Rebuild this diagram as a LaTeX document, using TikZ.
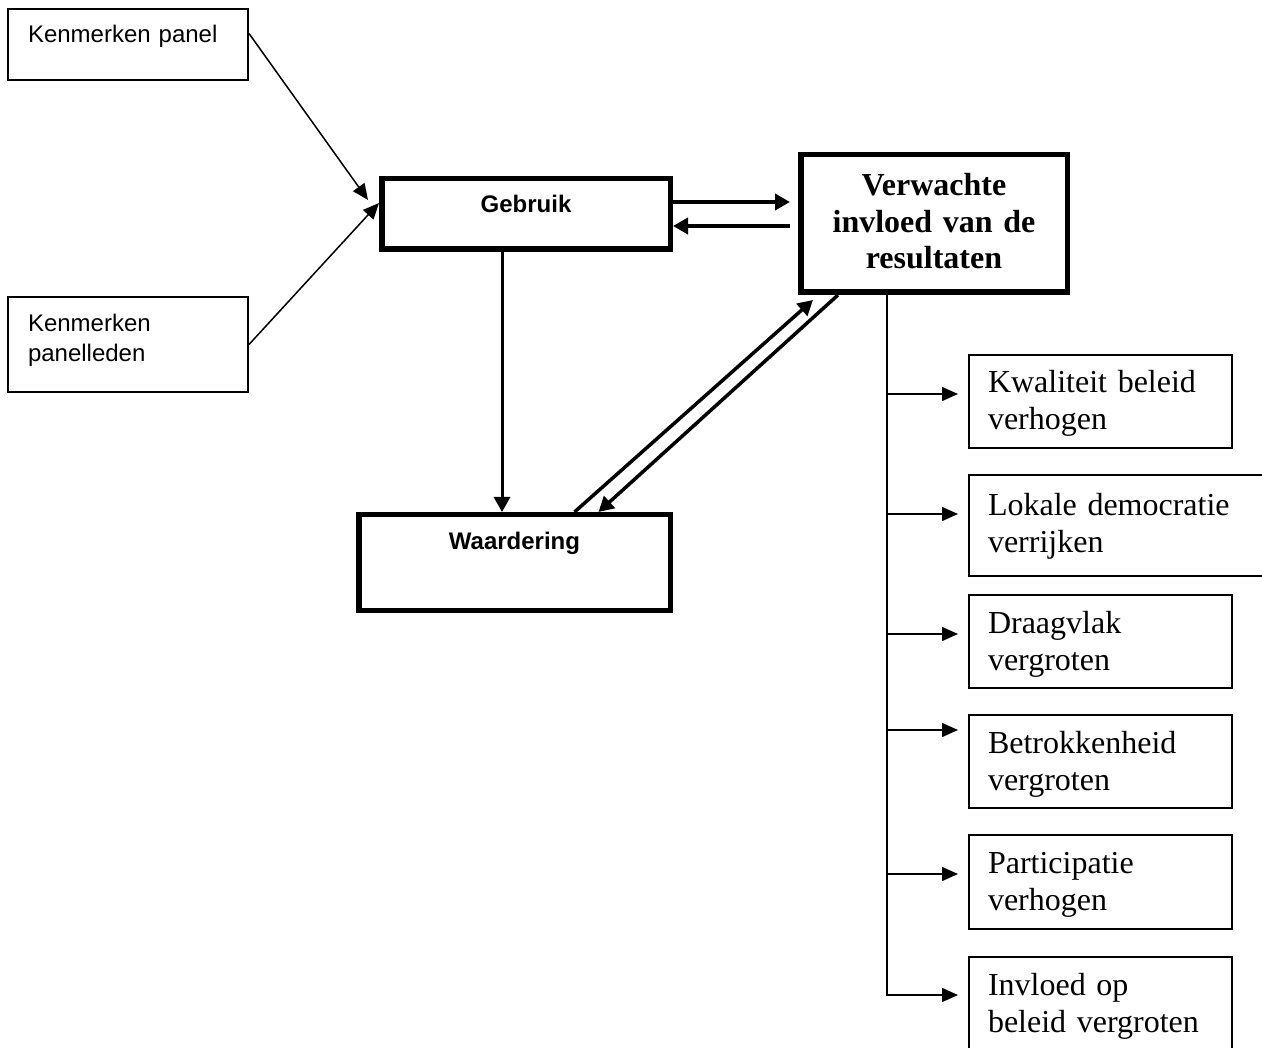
\documentclass[tikz,border=0pt]{standalone}
\usepackage{fontspec}
\setmainfont{Liberation Serif}
\newfontfamily\arialfont{Liberation Sans}
\usetikzlibrary{arrows.meta}

\tikzset{
  cause/.style={draw, line width=2pt, anchor=north west, align=left,
    inner xsep=20pt, inner ysep=0pt, text width=200pt,
    font=\arialfont\fontsize{24}{30}\selectfont},
  hub/.style={draw, line width=5.5pt, anchor=north west, align=center,
    inner sep=0pt, font=\arialfont\bfseries\fontsize{24}{30}\selectfont},
  effect/.style={draw, line width=2pt, anchor=north west, align=left,
    inner xsep=19pt, inner ysep=0pt, text width=225pt, text height=38pt,
    font=\fontsize{32}{37}\selectfont},
  thinarr/.style={line width=1.5pt, -{Triangle[length=16pt,width=14pt]}},
  thickarr/.style={-{Triangle[length=15pt,width=16pt]}}
}

\begin{document}
\begin{tikzpicture}[x=1pt,y=-1pt]
\useasboundingbox (0,0) rectangle (1262,1048);

\node[cause, text height=34pt, text depth=37pt] (kpanel) at (7,8)
{Kenmerken panel};

\node[cause, text height=35pt, text depth=60pt] (kleden) at (7,296)
{Kenmerken\\panelleden};

\node[hub, text width=288.5pt, text height=34.25pt, text depth=36.25pt] (gebruik) at (379,176)
{Gebruik};

\node[hub, text width=311.5pt, text height=35.25pt, text depth=60.25pt] (waard) at (356,512)
{Waardering};

\node[hub, text width=266.5pt, text height=41.25pt, text depth=96.25pt,
  font=\bfseries\fontsize{32}{36.5}\selectfont] (verw) at (798,152)
{Verwachte\\invloed van de\\resultaten};

% effecten
\node[effect, text depth=55pt] (kwal) at (968,354) {Kwaliteit beleid\\verhogen};
\node[effect, text width=272pt, text height=40pt, text depth=61pt] (lokale) at (968,474) {Lokale democratie\\verrijken};
\node[effect, text depth=55pt] (draag) at (968,594) {Draagvlak\\vergroten};
\node[effect, text depth=55pt] (betrok) at (968,714) {Betrokkenheid\\vergroten};
\node[effect, text depth=56pt] (partic) at (968,834) {Participatie\\verhogen};
\node[effect, text depth=72pt] (invloed) at (968,956) {Invloed op\\beleid vergroten};

\draw[thinarr] ([yshift=11pt]kpanel.east) -- ([xshift=-11pt,yshift=14pt]gebruik.west);

\draw[thinarr] (kleden.east) -- ([yshift=11pt]gebruik.west);

\draw[thickarr, line width=4pt] ([yshift=12pt]gebruik.east) -- ([yshift=12pt,xshift=-8pt]gebruik.east -| verw.west);

\draw[thickarr, line width=4pt] ([yshift=-12pt,xshift=-8pt]gebruik.east -| verw.west) -- ([yshift=-12pt]gebruik.east);

\draw[thickarr, line width=3pt] ([xshift=-24pt]gebruik.south) -- ([xshift=-24pt]gebruik.south |- waard.north);

\draw[thickarr, line width=3.5pt] ([xshift=60pt]waard.north) -- ([xshift=15pt,yshift=-5pt]verw.south west);

\draw[thickarr, line width=3.5pt] ([xshift=40pt]verw.south west) -- ([xshift=84pt]waard.north);

\coordinate (trunk) at ([xshift=89pt]verw.south west);
\draw[thinarr] (trunk) |- ([yshift=-39pt,xshift=-10pt]invloed.north west);

\foreach \eff/\dy in {kwal/40, lokale/40, draag/40, betrok/16, partic/40}
  \draw[thinarr] ([yshift=-\dy pt]trunk |- \eff.north west) -- ([yshift=-\dy pt,xshift=-10pt]\eff.north west);

\end{tikzpicture}
\end{document}
